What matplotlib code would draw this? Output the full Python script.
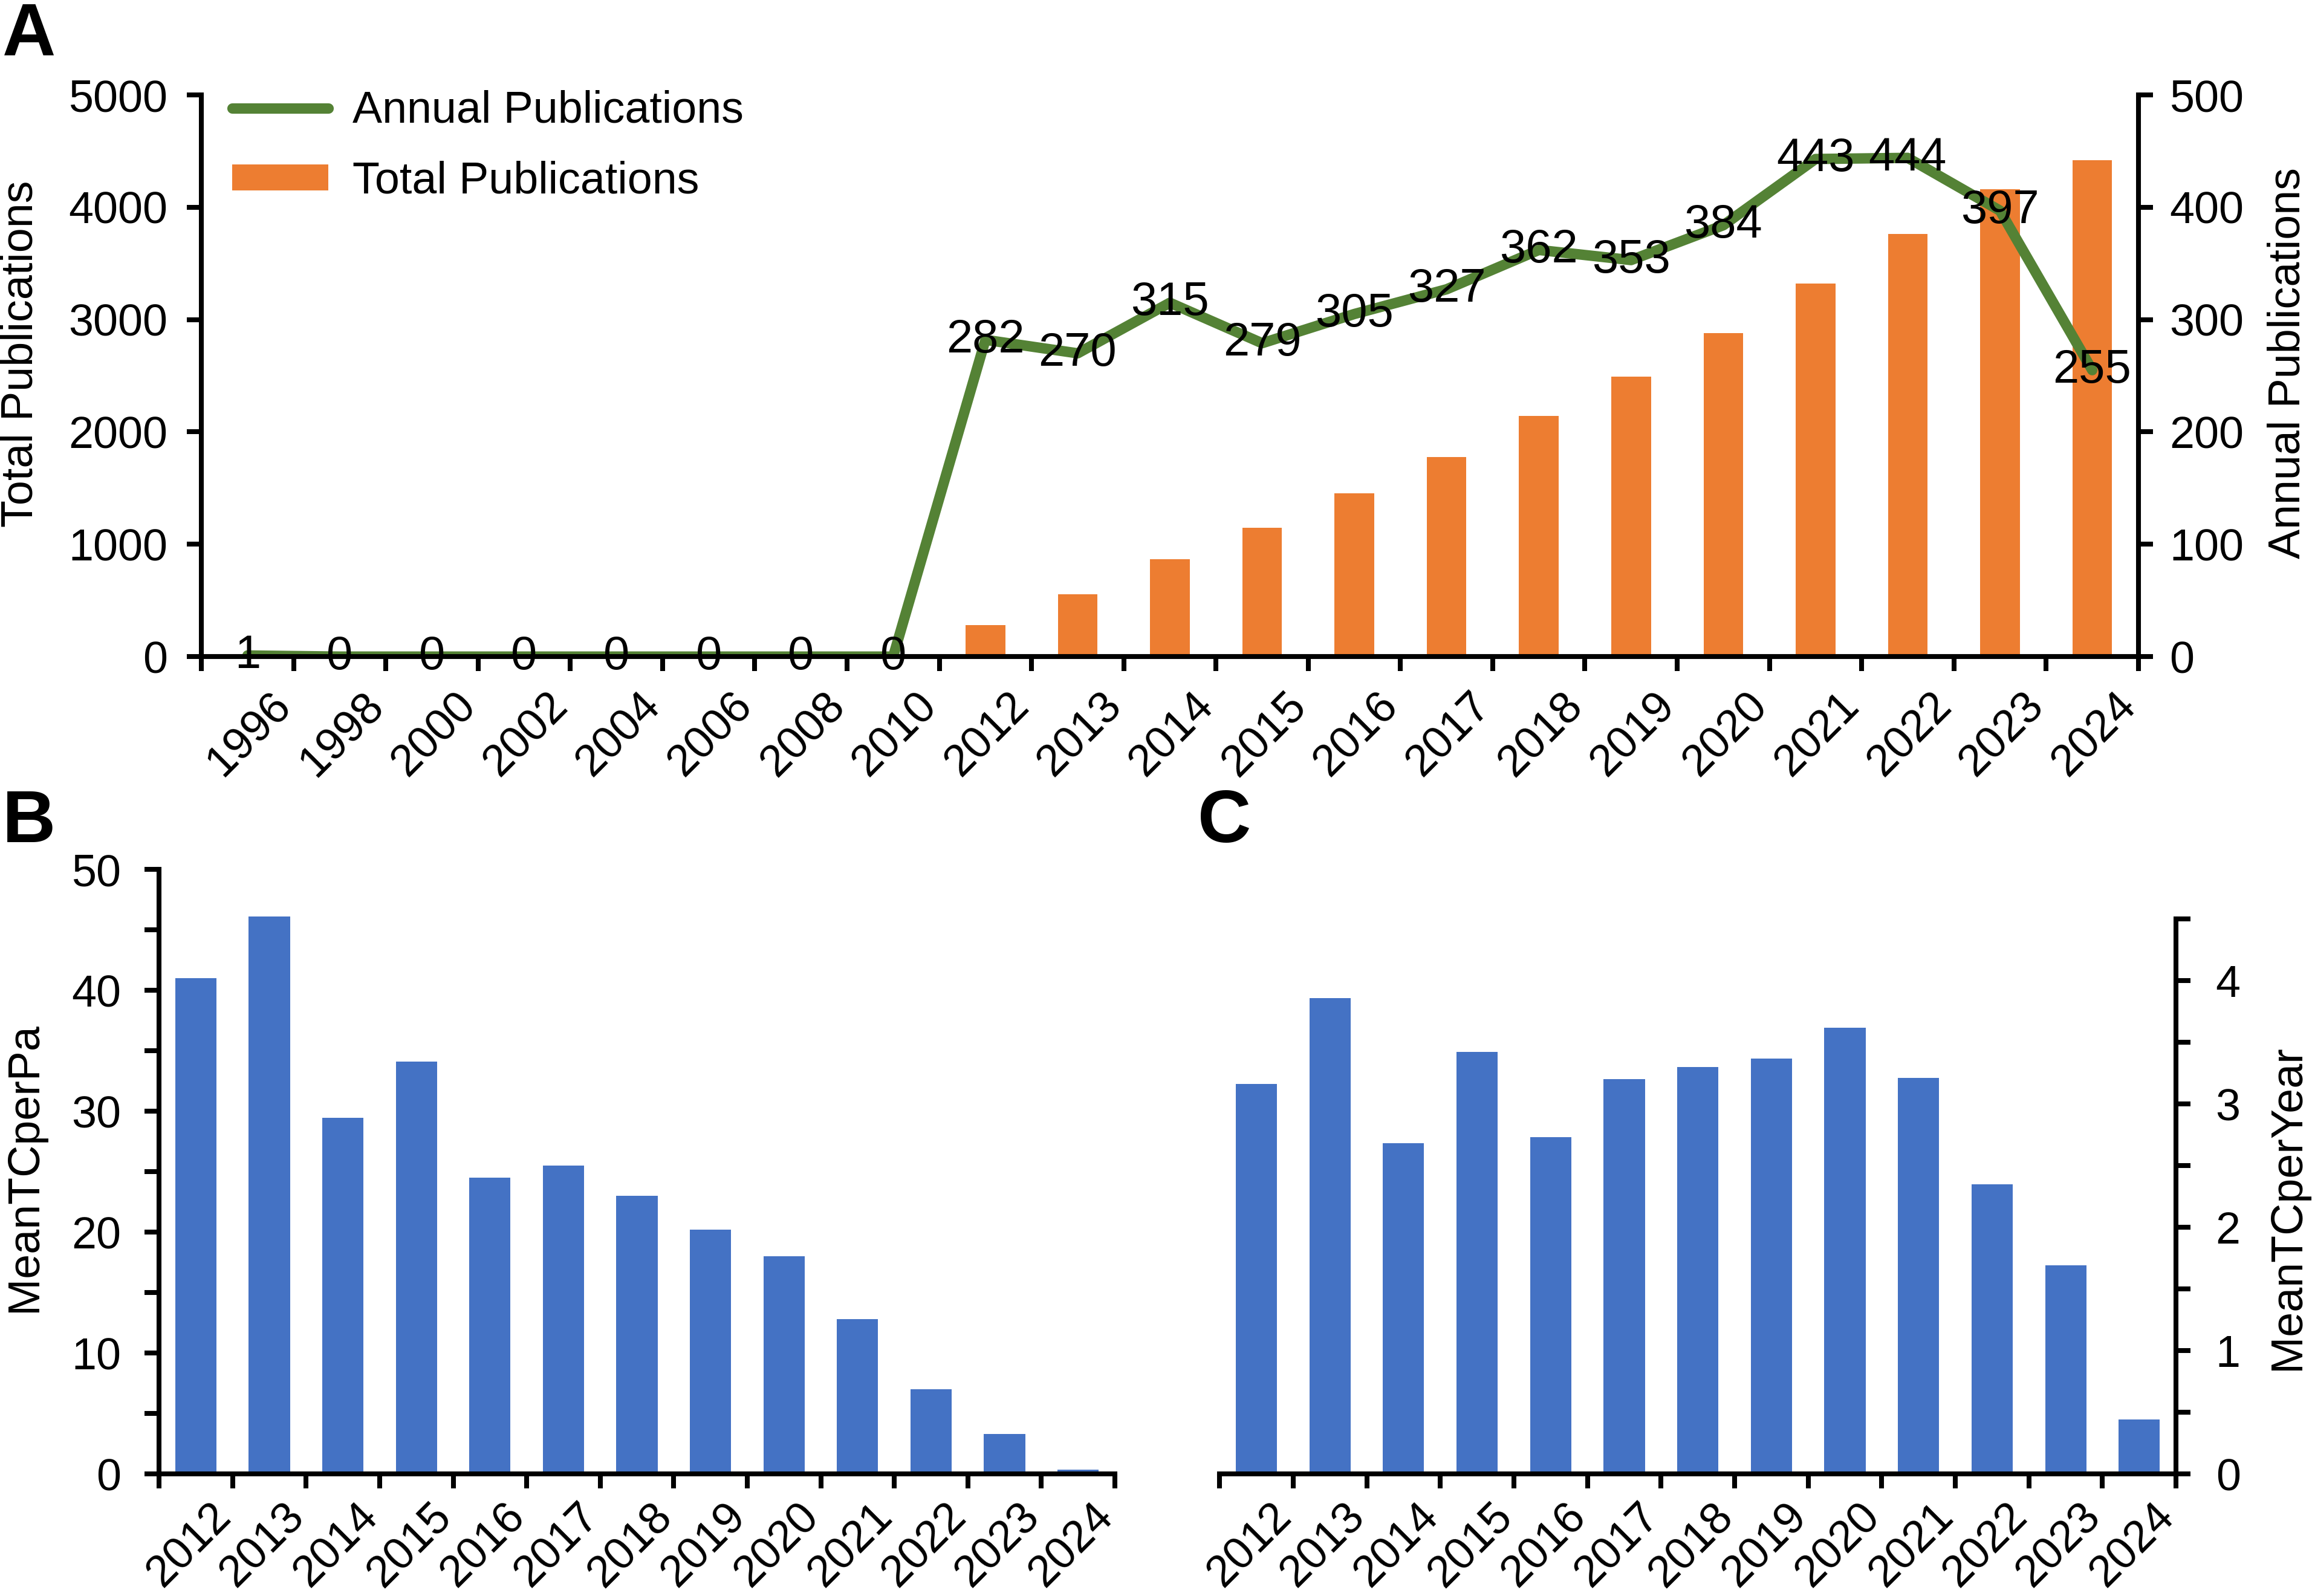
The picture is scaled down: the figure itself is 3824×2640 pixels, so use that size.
import numpy as np
import matplotlib
matplotlib.use('Agg')
import matplotlib.pyplot as plt
import matplotlib.transforms as mtransforms
from matplotlib.lines import Line2D
from matplotlib.patches import Patch

plt.rcParams['font.family'] = ['Liberation Sans', 'DejaVu Sans']

# --- data ---
years_a = ['1996', '1998', '2000', '2002', '2004', '2006', '2008', '2010',
           '2012', '2013', '2014', '2015', '2016', '2017', '2018', '2019',
           '2020', '2021', '2022', '2023', '2024']
annual = [1, 0, 0, 0, 0, 0, 0, 0, 282, 270, 315, 279, 305, 327, 362, 353,
          384, 443, 444, 397, 255]
total = [0, 0, 0, 0, 0, 0, 0, 0, 283, 553, 868, 1147, 1452, 1779, 2141, 2494,
         2878, 3321, 3765, 4162, 4417]

years_bc = ['2012', '2013', '2014', '2015', '2016', '2017', '2018', '2019',
            '2020', '2021', '2022', '2023', '2024']
mean_tc_pa = [41.0, 46.1, 29.45, 34.1, 24.5, 25.5, 23.0, 20.2, 18.0, 12.8,
              7.0, 3.3, 0.35]
mean_tc_year = [3.16, 3.86, 2.68, 3.42, 2.73, 3.20, 3.30, 3.37, 3.62, 3.21,
                2.35, 1.69, 0.44]

GREEN = '#548235'
ORANGE = '#ED7D31'
BLUE = '#4472C4'
FS = 26.5
LW = 2.9
TL = 8.6

fig = plt.figure(figsize=(19.12, 13.2), dpi=200)


def style_xcats(ax, labels, pad, shift_px):
    # ticks sit on category borders, each label ends at the border right of its bar
    n = len(labels)
    ax.set_xlim(-0.5, n - 0.5)
    ax.set_xticks(np.arange(-0.5, n, 1.0))
    ax.set_xticklabels([''] + labels, rotation=45, ha='right', va='center',
                       rotation_mode='anchor', fontsize=FS)
    ax.tick_params(axis='x', direction='out', length=TL, width=LW, pad=pad)
    off = mtransforms.ScaledTranslation(shift_px / 200, 0, fig.dpi_scale_trans)
    for lab in ax.get_xticklabels():
        lab.set_transform(lab.get_transform() + off)


# ---------------- Panel A ----------------
axA = fig.add_axes([0.0871, 0.5886, 0.8378, 0.3519])
xa = np.arange(len(years_a))
axA.bar(xa, total, width=0.43, color=ORANGE, zorder=2)
axA.set_ylim(0, 5000)
axA.set_yticks(np.arange(0, 5001, 1000))
axA.tick_params(axis='y', direction='out', length=TL, width=LW, pad=11.5,
                labelsize=FS)
style_xcats(axA, years_a, 17, -15)
for s in ['top', 'right']:
    axA.spines[s].set_visible(False)
for s in ['left', 'bottom']:
    axA.spines[s].set_linewidth(LW)

axA2 = axA.twinx()
axA2.plot(xa, annual, color=GREEN, lw=6.2, solid_capstyle='round',
          solid_joinstyle='round', zorder=2)
for i, v in enumerate(annual):
    axA2.text(i, v, str(v), ha='center', va='center', fontsize=28, zorder=4)
axA2.set_ylim(0, 500)
axA2.set_yticks(np.arange(0, 501, 100))
axA2.tick_params(axis='y', direction='out', length=TL, width=LW, pad=10,
                 labelsize=FS)
axA2.spines['top'].set_visible(False)
axA2.spines['left'].set_visible(False)
axA2.spines['right'].set_linewidth(LW)
axA2.spines['bottom'].set_linewidth(LW)
axA2.spines['bottom'].set_zorder(3)
axA2.tick_params(axis='x', bottom=False, labelbottom=False)

handles = [Line2D([0], [0], color=GREEN, lw=6.2, solid_capstyle='round'),
           Patch(facecolor=ORANGE, edgecolor='none')]
fig.legend(handles, ['Annual Publications', 'Total Publications'],
           loc='upper left', bbox_to_anchor=(0.1004, 0.9436), frameon=False,
           fontsize=FS, borderpad=0, borderaxespad=0, handlelength=2.16,
           handleheight=0.53, handletextpad=0.54, labelspacing=0.65)

fig.text(0.0089, 0.7784, 'Total Publications', rotation=90, ha='center',
         va='center', fontsize=FS)
fig.text(0.9895, 0.7727, 'Annual Publications', rotation=90, ha='center',
         va='center', fontsize=FS)

# ---------------- Panel B ----------------
axB = fig.add_axes([0.0688, 0.0765, 0.4134, 0.3788])
xb = np.arange(len(years_bc))
axB.bar(xb, mean_tc_pa, width=0.56, color=BLUE, zorder=2)
axB.set_ylim(0, 50)
axB.set_yticks(np.arange(0, 51, 10))
axB.set_yticks(np.arange(5, 50, 10), minor=True)
axB.tick_params(axis='y', which='both', direction='out', length=TL, width=LW,
                pad=14, labelsize=FS)
style_xcats(axB, years_bc, 13, -14)
for s in ['top', 'right']:
    axB.spines[s].set_visible(False)
for s in ['left', 'bottom']:
    axB.spines[s].set_linewidth(LW)
fig.text(0.0105, 0.2689, 'MeanTCperPa', rotation=90, ha='center',
         va='center', fontsize=FS)

# ---------------- Panel C ----------------
axC = fig.add_axes([0.5275, 0.0765, 0.4137, 0.3477])
axC.bar(xb, mean_tc_year, width=0.56, color=BLUE, zorder=2)
axC.set_ylim(0, 4.5)
axC.yaxis.tick_right()
axC.set_yticks(np.arange(0, 4.1, 1))
axC.set_yticks(np.arange(0.5, 4.6, 1), minor=True)
axC.tick_params(axis='y', which='both', direction='out', length=TL, width=LW,
                pad=15, labelsize=FS)
style_xcats(axC, years_bc, 13, -14)
for s in ['top', 'left']:
    axC.spines[s].set_visible(False)
for s in ['right', 'bottom']:
    axC.spines[s].set_linewidth(LW)
fig.text(0.9895, 0.2436, 'MeanTCperYear', rotation=90, ha='center',
         va='center', fontsize=FS)

# panel letters
fig.text(0.001, 0.9655, 'A', fontsize=44, fontweight='bold', va='baseline')
fig.text(0.001, 0.4723, 'B', fontsize=44, fontweight='bold', va='baseline')
fig.text(0.518, 0.4723, 'C', fontsize=44, fontweight='bold', va='baseline')

fig.savefig('out.png', dpi=200)
